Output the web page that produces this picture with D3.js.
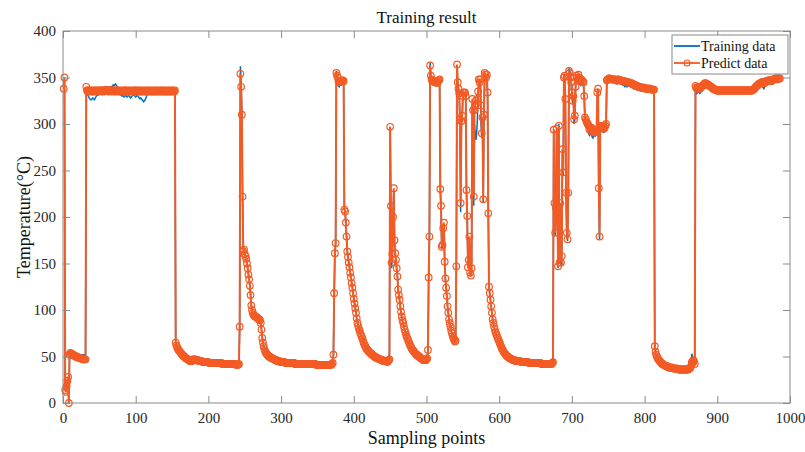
<!DOCTYPE html>
<html><head><meta charset="utf-8">
<script src="https://cdn.jsdelivr.net/npm/d3@7"></script>
<style>body{margin:0;background:#fff}svg{display:block}</style>
</head><body><svg id="c" width="805" height="452"></svg>
<script>
const xTicks=[0,100,200,300,400,500,600,700,800,900,1000];
const yTicks=[0,50,100,150,200,250,300,350,400];
const seriesNames=["Training data","Predict data"];
// Predict data, sample 1..986
const predict=[
338,350,14,12,18,24,28,0,52,
54,53,53,52,52,51,51,50,50,50,49,49,49,48,48,48,48,47,47,47,47,47,
340,
336,335,336,335,336,336,335,335,336,335,
335,336,336,335,335,336,335,336,336,335,
336,336,335,335,336,336,337,336,336,335,
336,336,335,336,336,335,335,336,336,335,
335,336,336,335,336,335,335,336,335,335,
336,335,336,336,335,335,336,335,335,336,
335,335,336,335,335,336,336,335,335,336,
335,336,335,335,336,335,335,336,335,335,
336,335,335,336,335,336,335,335,336,335,
335,336,335,335,336,335,336,335,335,336,
335,335,336,335,336,335,335,336,335,335,
336,335,335,336,335,335,336,335,336,335,
335,336,
65,62,60,58,57,56,55,54,53,52,
51,50,50,49,48,48,47,47,46,46,
45,45,45,46,47,47,47,47,46,46,
46,46,45,45,45,45,45,44,44,44,
44,44,44,44,44,44,43,43,43,43,
43,43,43,43,43,43,43,43,43,43,
43,43,43,43,42,42,42,42,42,42,
42,42,42,42,42,42,42,42,42,42,
42,42,42,41,41,41,41,42,
82,354,340,310,222,163,165,160,158,155,
150,145,138,133,126,116,105,100,97,95,
94,93,93,92,92,91,90,90,89,86,
79,70,65,61,58,56,54,53,52,
51,50,50,49,49,48,48,48,47,47,
46,46,46,45,45,45,45,44,44,44,
44,44,44,44,43,43,43,43,43,43,
43,43,43,43,43,43,43,42,42,42,
42,42,42,42,42,42,42,42,42,42,
42,42,42,42,42,42,42,42,42,42,
42,42,42,42,42,42,41,41,41,41,
41,41,41,41,41,41,41,41,41,41,
41,41,41,41,41,41,41,41,42,43,
52,118,161,172,355,352,350,346,345,345,346,346,347,347,346,
208,206,194,179,163,157,151,146,140,135,
129,124,118,112,107,102,97,91,86,83,
80,78,75,73,71,69,66,64,62,61,
59,58,57,56,55,54,54,53,52,52,
51,50,50,49,49,48,48,48,47,47,
47,46,46,46,45,45,45,45,45,44,
45,46,47,
297,212,151,160,200,231,175,161,154,145,
136,122,116,111,104,98,93,89,86,82,
79,76,73,71,69,67,65,63,61,60,
58,57,56,55,54,53,52,52,51,50,
50,49,48,48,47,47,46,46,46,46,
47,48,
57,135,179,363,352,348,346,347,346,345,
346,345,344,345,346,347,348,230,212,168,
170,188,194,152,134,124,115,104,97,90,
86,82,78,75,72,70,68,66,67,147,
364,345,338,333,305,215,303,309,330,334,
333,334,330,229,201,146,154,179,140,137,
145,327,315,222,315,320,325,322,327,335,
348,345,348,320,290,307,219,310,355,353,
350,353,334,204,125,118,111,104,97,90,
86,82,79,76,74,72,70,68,66,64,
62,60,58,57,55,54,53,52,51,50,
50,49,48,48,48,47,47,46,46,
46,46,45,45,45,45,45,45,45,44,
44,44,44,44,44,44,44,44,44,44,
43,43,43,43,43,43,43,43,43,43,
43,43,43,43,43,43,43,42,42,42,
42,42,42,42,42,42,42,42,42,42,
42,42,43,44,
294,215,183,210,295,208,147,298,151,215,
151,158,273,248,350,352,327,226,183,176,
226,357,355,350,345,334,325,330,305,309,
340,352,350,348,353,350,348,346,348,345,
346,345,330,307,305,303,301,300,298,294,
296,295,296,293,291,292,294,291,293,294,
334,338,231,179,298,297,298,296,297,295,
296,298,300,347,348,348,349,349,348,348,
348,348,
348,348,348,347,347,347,348,348,347,347,
347,347,346,346,346,346,346,345,345,345,
345,345,344,344,344,344,343,343,342,342,
342,341,341,341,340,340,340,340,339,339,
339,339,339,339,338,338,338,338,338,338,
338,338,337,337,337,337,337,
61,55,52,50,48,47,46,45,44,43,
42,42,41,41,40,40,40,39,39,39,
38,38,38,38,38,38,37,37,37,37,
37,37,37,36,36,36,36,36,36,36,
36,36,36,36,36,36,36,37,37,38,
40,44,43,46,45,42,
341,339,338,339,340,339,338,339,340,341,
341,342,343,344,344,343,343,342,342,341,
341,340,340,339,338,338,337,337,337,336,
336,336,336,336,336,336,336,336,336,336,
336,336,336,336,336,336,336,336,336,336,
336,336,336,336,336,336,336,336,336,336,
336,336,336,336,336,336,336,336,336,336,
336,336,336,336,336,336,336,336,336,337,
337,338,339,340,341,341,342,343,343,344,
344,345,345,345,344,344,345,346,346,346,
347,347,347,346,346,347,347,348,348,348,
349,349,348,348,349,349,349
];
// Training data, sample 1..986
const training=[
338,350,14,12,18,24,28,0,52,
54,53,53,53,53,52,52,52,52,52,52,52,52,52,52,52,52,52,52,52,52,52,
334,
332,331,330,328,327,326,326,327,328,327,
326,327,329,330,331,331,332,333,334,
335,336,337,337,338,339,338,337,338,339,
338,338,339,340,339,340,341,342,341,342,
343,342,341,340,338,336,334,
332,331,330,331,330,329,330,331,330,329,
330,331,330,329,328,329,330,331,332,331,
330,329,330,331,330,329,328,327,328,327,
326,325,324,325,326,328,330,
332,333,332,332,333,334,333,332,333,333,
332,333,334,333,332,333,334,333,333,332,
333,334,333,332,333,333,334,333,332,333,
334,333,333,334,333,332,333,334,334,
64,61,59,57,56,55,54,53,52,51,
50,50,49,48,47,47,46,46,46,45,
45,45,46,47,48,48,47,47,47,46,
46,46,46,45,45,45,45,45,44,44,
44,44,44,44,44,43,43,43,43,43,
43,43,43,43,43,43,43,43,43,42,
43,43,42,42,42,42,42,42,42,42,
42,42,42,42,42,42,42,42,42,42,
42,42,41,41,41,41,42,42,
82,362,345,312,224,168,166,161,158,155,
150,146,139,134,127,117,106,101,98,96,
95,94,94,93,93,92,91,91,90,87,
80,71,66,62,59,57,55,54,53,
52,51,50,50,49,49,48,48,48,47,
47,47,46,46,46,46,45,45,45,45,
45,45,44,44,44,44,44,44,44,43,
43,43,43,43,43,43,43,43,43,43,
43,42,42,42,42,42,42,42,42,42,
42,42,42,42,42,42,42,42,42,42,
42,42,42,42,42,42,42,42,42,41,
41,41,41,41,41,41,41,41,41,41,
41,41,41,41,41,41,41,41,42,43,
52,118,161,172,357,354,348,341,340,342,344,345,346,346,345,
208,206,195,180,164,158,152,147,141,136,
130,125,119,113,108,103,98,92,87,84,
81,79,76,74,72,70,67,65,63,62,
60,59,58,57,56,55,55,54,53,53,
52,51,51,50,50,49,49,49,48,48,
48,47,47,47,46,46,46,46,46,45,
46,48,53,
297,205,145,160,200,228,172,160,153,144,
135,121,115,110,103,97,92,88,85,81,
78,75,72,70,68,66,64,62,60,59,
57,56,55,54,53,52,51,51,50,49,
49,48,47,47,46,46,45,45,45,45,
46,48,
57,135,179,366,350,346,344,345,344,343,
343,342,343,345,346,347,348,228,210,166,
168,186,192,150,133,123,114,103,96,89,
85,81,77,74,71,69,67,65,66,146,
362,343,336,332,300,205,298,305,328,333,
332,333,328,225,198,145,150,175,138,136,
143,322,305,212,300,290,283,290,305,330,
343,340,345,300,285,300,215,305,352,351,
348,350,330,200,124,117,110,103,96,89,
85,81,78,75,73,71,69,67,65,63,
61,59,57,56,54,53,52,51,50,49,
49,48,47,47,47,46,46,45,45,
45,45,45,45,45,44,44,44,44,44,
44,44,44,43,43,43,43,43,43,43,
43,43,43,43,43,43,43,43,43,43,
43,43,43,43,43,42,42,42,42,42,
42,42,42,42,42,42,42,42,42,42,
42,42,43,44,
294,210,180,205,296,205,145,300,150,212,
148,155,270,245,352,354,325,222,180,174,
224,360,358,352,347,330,322,325,300,305,
338,350,348,345,350,347,344,342,345,343,
342,340,326,303,300,298,296,294,290,288,
290,289,288,286,285,287,288,287,289,290,
330,336,228,176,293,292,294,292,293,291,
292,294,297,345,346,345,346,347,346,346,
345,346,
346,345,346,345,344,343,345,346,344,344,
345,344,343,342,343,341,340,341,342,340,
341,342,343,341,340,341,340,339,338,339,
340,338,337,338,337,338,337,336,337,338,
337,338,337,338,337,336,337,337,336,337,
337,336,336,337,336,336,336,
60,54,51,49,48,47,46,45,44,43,
42,41,41,40,40,40,39,39,39,38,
38,38,38,38,37,37,37,37,37,37,
37,36,36,36,36,36,36,36,36,36,
36,36,36,36,36,36,37,37,38,39,
42,53,50,48,46,44,
343,336,333,334,336,335,333,334,336,338,
340,341,342,343,343,342,342,341,341,340,
340,339,338,337,336,336,335,335,335,335,
335,334,334,335,335,334,334,335,335,335,
335,334,334,335,335,335,334,334,335,335,
335,335,334,334,335,335,335,334,335,335,
335,335,335,334,335,335,335,335,335,335,
335,335,335,335,335,335,335,335,336,336,
337,338,339,339,340,341,342,342,343,343,
344,344,343,339,338,340,343,344,345,345,
346,346,346,345,345,346,346,347,347,347,
348,348,347,347,348,348,348
];

const W=805,H=452;
const L=63,R=790,T=31,B=403;
const svg=d3.select("#c");
const x=d3.scaleLinear().domain([0,1000]).range([L,R]);
const y=d3.scaleLinear().domain([0,400]).range([B,T]);
const font="'Liberation Serif','Times New Roman',serif";
const axisCol="#8a8a8a", textCol="#262626";
const blue="#0072BD", orange="#F35B25";

const trainPts=training.map((v,i)=>({x:i+1,y:v}));
const predPts=predict.map((v,i)=>({x:i+1,y:v}));

svg.append("rect").attr("x",L).attr("y",T).attr("width",R-L).attr("height",B-T).attr("fill","#fff");

const line=d3.line().x(d=>x(d.x)).y(d=>y(d.y));
svg.append("path").datum(trainPts).attr("d",line).attr("fill","none").attr("stroke",blue).attr("stroke-width",1.5);
svg.append("path").datum(predPts).attr("d",line).attr("fill","none").attr("stroke",orange).attr("stroke-width",2);
svg.append("g").selectAll("circle").data(predPts).join("circle")
  .attr("cx",d=>x(d.x)).attr("cy",d=>y(d.y)).attr("r",3.3)
  .attr("fill","none").attr("stroke",orange).attr("stroke-width",1.2);

function styleAxis(g,labels){
  g.select(".domain").remove();
  g.selectAll(".tick line").attr("stroke",axisCol);
  g.selectAll(".tick text").attr("fill",textCol).style("font-family",font).style("font-size","15px");
  if(!labels) g.selectAll(".tick text").remove();
}
const fmt=d3.format("d");
svg.append("g").attr("transform",`translate(0,${B})`)
  .call(d3.axisBottom(x).tickValues(xTicks).tickFormat(fmt).tickSizeInner(-7).tickSizeOuter(0).tickPadding(9))
  .call(g=>styleAxis(g,true));
svg.append("g").attr("transform",`translate(0,${T})`)
  .call(d3.axisTop(x).tickValues(xTicks).tickSizeInner(-7).tickSizeOuter(0))
  .call(g=>styleAxis(g,false));
svg.append("g").attr("transform",`translate(${L},0)`)
  .call(d3.axisLeft(y).tickValues(yTicks).tickFormat(fmt).tickSizeInner(-7).tickSizeOuter(0).tickPadding(7))
  .call(g=>styleAxis(g,true));
svg.append("g").attr("transform",`translate(${R},0)`)
  .call(d3.axisRight(y).tickValues(yTicks).tickSizeInner(-7).tickSizeOuter(0))
  .call(g=>styleAxis(g,false));
svg.append("rect").attr("x",L).attr("y",T).attr("width",R-L).attr("height",B-T)
  .attr("fill","none").attr("stroke",axisCol).attr("stroke-width",1);

svg.append("text").attr("x",(L+R)/2).attr("y",23).attr("text-anchor","middle")
  .style("font-family",font).style("font-size","17px").attr("fill","#111").text("Training result");
svg.append("text").attr("x",(L+R)/2).attr("y",444).attr("text-anchor","middle")
  .style("font-family",font).style("font-size","18px").attr("fill","#111").text("Sampling points");
svg.append("text").attr("transform",`translate(30,${(T+B)/2}) rotate(-90)`).attr("text-anchor","middle")
  .style("font-family",font).style("font-size","18px").attr("fill","#111").text("Temperature(°C)");

// legend
const lg=svg.append("g");
lg.append("rect").attr("x",672).attr("y",35).attr("width",116).attr("height",39)
  .attr("fill","#fff").attr("stroke",axisCol);
const cols=[blue,orange];
seriesNames.forEach((n,i)=>{
  const yy=46+i*17;
  lg.append("line").attr("x1",674).attr("x2",700).attr("y1",yy).attr("y2",yy).attr("stroke",cols[i]).attr("stroke-width",1.8);
  if(i===1) lg.append("circle").attr("cx",687).attr("cy",yy).attr("r",3).attr("fill","none").attr("stroke",orange).attr("stroke-width",1.2);
  lg.append("text").attr("x",701).attr("y",yy+5).style("font-family",font).style("font-size","14px").attr("fill","#111").text(n);
});
</script></body></html>
